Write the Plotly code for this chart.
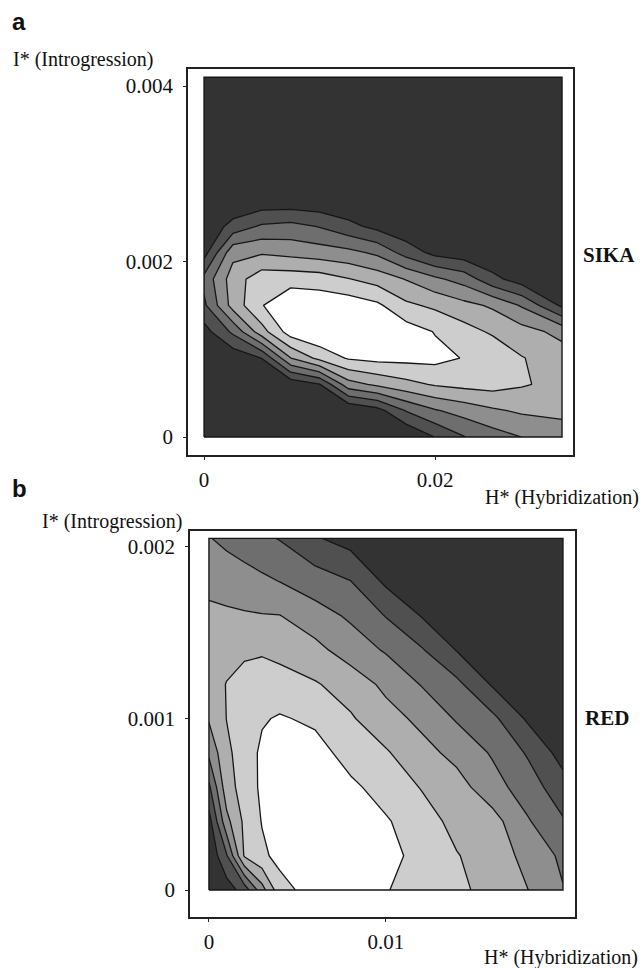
import plotly.graph_objects as go

# ---------------- Panel a : SIKA ----------------
sika_h = [0, 0.0025, 0.005, 0.0075, 0.01, 0.0125, 0.015, 0.0175, 0.02, 0.0225, 0.025, 0.0275, 0.031]
sika_i = [0, 0.0003, 0.0006, 0.0009, 0.0012, 0.0015, 0.0018, 0.0021, 0.0024, 0.0027, 0.003, 0.0035, 0.0041]
sika_z = [
    [0, 0, 0, 0, 0, 0, 0, 0, 1.02, 1.95, 2.55, 3.0, 3.6],
    [0, 0, 0, 0, 0, 0, 0.6, 2.05, 2.9, 3.4, 3.85, 4.15, 4.2],
    [0, 0.05, 0, 0.3, 0.95, 3.6, 4.2, 4.7, 5.1, 5.3, 5.4, 5.1, 4.7],
    [0.1, 0.3, 1.02, 3.98, 5.3, 6.1, 6.3, 6.3, 6.3, 5.95, 5.8, 5.05, 4.5],
    [0.6, 2.2, 4.6, 6.5, 6.9, 7.0, 6.9, 6.5, 5.95, 5.4, 4.85, 4.4, 3.7],
    [1.8, 4.4, 5.95, 6.8, 6.7, 6.6, 6.2, 5.2, 4.8, 4.3, 3.85, 2.9, 0.8],
    [2.3, 4.5, 5.6, 5.6, 5.5, 5.05, 4.6, 3.95, 3.2, 2.6, 1.3, 0.5, 0.1],
    [0.6, 3.7, 3.9, 3.7, 3.5, 3.3, 2.8, 1.6, 0.7, 0.4, 0.1, 0, 0],
    [0.1, 1.4, 2.15, 2.3, 1.95, 1.3, 0.7, 0.2, 0, 0, 0, 0, 0],
    [0, 0, 0.3, 0.3, 0.2, 0.1, 0, 0, 0, 0, 0, 0, 0],
    [0, 0, 0, 0, 0, 0, 0, 0, 0, 0, 0, 0, 0],
    [0, 0, 0, 0, 0, 0, 0, 0, 0, 0, 0, 0, 0],
    [0, 0, 0, 0, 0, 0, 0, 0, 0, 0, 0, 0, 0],
]
sika_h_ticks = [0, 0.02]
sika_h_labels = ["0", "0.02"]
sika_i_ticks = [0, 0.002, 0.004]
sika_i_labels = ["0", "0.002", "0.004"]

# ---------------- Panel b : RED ----------------
red_h = [0, 0.001, 0.002, 0.003, 0.004, 0.006, 0.008, 0.010, 0.012, 0.014, 0.016, 0.018, 0.020]
red_i = [0, 0.0002, 0.0004, 0.0006, 0.0008, 0.001, 0.0012, 0.0014, 0.0016, 0.0018, 0.00205]
red_z = [
    [0.2, 0.5, 1.4, 3.6, 5.6, 6.5, 6.2, 6.05, 5.6, 5.2, 4.7, 4.02, 3.05],
    [0.15, 1.9, 5.1, 5.8, 6.3, 6.6, 6.5, 6.2, 5.8, 5.05, 4.55, 3.7, 2.8],
    [0.6, 3.7, 5.2, 6.05, 6.4, 6.6, 6.4, 6.1, 5.45, 4.7, 4.4, 3.1, 2.1],
    [1.8, 4.6, 5.4, 6.2, 6.5, 6.6, 6.2, 5.6, 4.95, 4.4, 3.4, 2.5, 1.4],
    [3.2, 4.8, 5.45, 6.2, 6.6, 6.4, 5.6, 5.1, 4.35, 3.7, 2.9, 1.9, 0.6],
    [4.1, 5.02, 5.5, 5.9, 6.1, 5.8, 5.1, 4.4, 3.75, 2.9, 2.25, 0.85, 0.3],
    [4.6, 5.03, 5.3, 5.4, 5.35, 5.08, 4.6, 3.75, 2.95, 2.25, 0.9, 0.4, 0.2],
    [4.4, 4.7, 4.85, 4.9, 4.75, 4.3, 3.5, 2.9, 2.1, 0.95, 0.4, 0.2, 0.1],
    [4.2, 4.15, 4.1, 4.05, 4.02, 3.4, 2.85, 1.95, 0.95, 0.4, 0.2, 0.1, 0.05],
    [3.75, 3.6, 3.4, 3.2, 2.98, 2.5, 2.02, 0.8, 0.4, 0.2, 0.1, 0.05, 0.05],
    [3.05, 2.75, 2.5, 2.2, 1.95, 1.1, 0.6, 0.3, 0.15, 0.1, 0.05, 0.05, 0.05],
]
red_h_ticks = [0, 0.01]
red_h_labels = ["0", "0.01"]
red_i_ticks = [0, 0.001, 0.002]
red_i_labels = ["0", "0.001", "0.002"]

# ---------------- styling ----------------
W, H = 644, 968
gray_bands = ["#333333", "#505050", "#6e6e6e", "#8e8e8e", "#aeaeae", "#cdcdcd", "#ffffff"]
colorscale = [[i / (len(gray_bands) - 1), c] for i, c in enumerate(gray_bands)]
line_col = "#161616"
serif = "Liberation Serif, Times New Roman, serif"
sans = "Liberation Sans, Arial, sans-serif"
txt_col = "#111111"


def px_x(p):
    return p / W


def px_y(p):
    return 1 - p / H


fig = go.Figure()

for hx, iy, zz, xa, ya in [(sika_h, sika_i, sika_z, "x", "y"), (red_h, red_i, red_z, "x2", "y2")]:
    fig.add_trace(go.Contour(
        x=hx, y=iy, z=zz,
        colorscale=colorscale, showscale=False,
        contours=dict(start=1, end=6, size=1, coloring="fill", showlines=True),
        line=dict(color=line_col, width=1.3, smoothing=0),
        hoverinfo="skip", xaxis=xa, yaxis=ya,
    ))
    x0, x1 = min(hx), max(hx)
    y0, y1 = min(iy), max(iy)
    fig.add_trace(go.Scatter(
        x=[x0, x1, x1, x0, x0], y=[y0, y0, y1, y1, y0],
        mode="lines", line=dict(color=line_col, width=1.4),
        hoverinfo="skip", showlegend=False, xaxis=xa, yaxis=ya,
    ))

axis_common = dict(
    showline=True, linecolor="#222222", linewidth=1.5, mirror=True,
    ticks="outside", ticklen=3, tickwidth=1, tickcolor="#222222",
    showgrid=False, zeroline=False,
    tickfont=dict(family=serif, size=21, color=txt_col),
    fixedrange=True,
)

fig.update_layout(
    width=W, height=H,
    margin=dict(l=0, r=0, t=0, b=0),
    paper_bgcolor="white", plot_bgcolor="white",
    showlegend=False,
    xaxis=dict(axis_common, domain=[px_x(188), px_x(573)], range=[-0.00139, 0.03195],
               tickvals=sika_h_ticks, ticktext=sika_h_labels, anchor="y", ticklabelstandoff=2),
    yaxis=dict(axis_common, domain=[px_y(455), px_y(69)], range=[-0.000205, 0.004194],
               tickvals=sika_i_ticks, ticktext=sika_i_labels, anchor="x", ticklabelstandoff=6),
    xaxis2=dict(axis_common, domain=[px_x(190), px_x(575)], range=[-0.00107, 0.02068],
                tickvals=red_h_ticks, ticktext=red_h_labels, anchor="y2", ticklabelstandoff=2),
    yaxis2=dict(axis_common, domain=[px_y(917), px_y(531)], range=[-0.000157, 0.002093],
                tickvals=red_i_ticks, ticktext=red_i_labels, anchor="x2", ticklabelstandoff=6),
)

annotations = [
    dict(text="<b>a</b>", x=px_x(10), y=px_y(22), xanchor="left", yanchor="middle",
         font=dict(family=sans, size=24, color=txt_col)),
    dict(text="<b>b</b>", x=px_x(10), y=px_y(488), xanchor="left", yanchor="middle",
         font=dict(family=sans, size=24, color=txt_col)),
    dict(text="I* (Introgression)", x=px_x(156), y=px_y(59), xanchor="right", yanchor="middle",
         font=dict(family=serif, size=20, color=txt_col)),
    dict(text="I* (Introgression)", x=px_x(185), y=px_y(521), xanchor="right", yanchor="middle",
         font=dict(family=serif, size=20, color=txt_col)),
    dict(text="H* (Hybridization)", x=px_x(641), y=px_y(497), xanchor="right", yanchor="middle",
         font=dict(family=serif, size=20, color=txt_col)),
    dict(text="H* (Hybridization)", x=px_x(640), y=px_y(957), xanchor="right", yanchor="middle",
         font=dict(family=serif, size=20, color=txt_col)),
    dict(text="<b>SIKA</b>", x=px_x(581), y=px_y(255), xanchor="left", yanchor="middle",
         font=dict(family=serif, size=21, color=txt_col)),
    dict(text="<b>RED</b>", x=px_x(583), y=px_y(718), xanchor="left", yanchor="middle",
         font=dict(family=serif, size=21, color=txt_col)),
]
for a in annotations:
    a.update(xref="paper", yref="paper", showarrow=False)
fig.update_layout(annotations=annotations)

fig.write_html(
    "out.html",
    config={"displayModeBar": False},
    post_script="document.body.style.margin='0';document.body.style.overflow='hidden';",
)
